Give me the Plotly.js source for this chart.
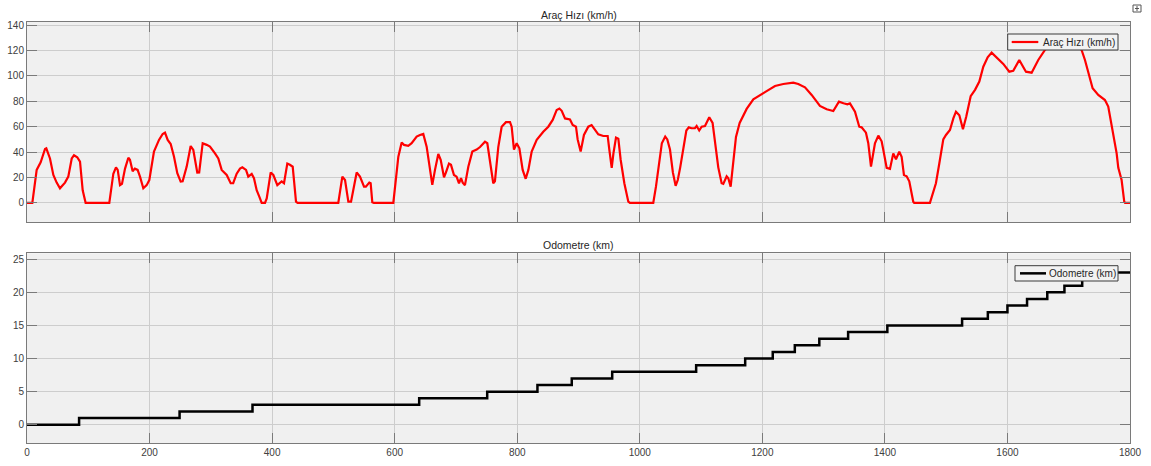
<!DOCTYPE html>
<html>
<head>
<meta charset="utf-8">
<script src="https://cdn.plot.ly/plotly-3.0.1.min.js"></script>
<style>html,body{margin:0;padding:0;background:#fff;}#chart{width:1151px;height:466px;}</style>
</head>
<body>
<div id="chart"></div>
<script>
// Vehicle speed (km/h) over time (s)
const speedTime = [0,8.7,15.8,22.3,29.4,31.5,37.5,43,48.4,53.8,62,67.4,73,76.7,82,86.5,90.9,95.7,
134.3,140.9,145.2,148,151.8,155,160,165.4,168,172.4,176,180.5,184.4,189.8,195.3,199.6,207.2,215.4,221.4,225.2,229.6,234.5,239.9,245.3,250.8,254,260.6,267.1,271.4,277.9,281,286.7,293.2,298.6,306.8,312.2,317.7,325.9,332.4,336.5,342.2,347.6,351.4,357.4,361.1,366.7,370.4,374.8,379.1,383,388.4,391.2,397.7,402,408.5,413,415.6,419.4,424.8,429,433.6,439,441.6,
508,514.6,519,524.4,528.8,538,543.4,550,553,558.6,560.8,563.5,566,
597.8,606,611.4,615.2,622.2,627.7,635.9,641.3,646.7,652.2,656.5,661.4,665.8,671.2,675.1,680.5,683.7,688.6,691.9,696.8,701,705,708.3,711,714.7,720.2,726.7,733.8,739.3,747.4,751.2,755.5,760.9,763.6,769.1,774.6,781.6,788.2,790.9,794.7,799.1,803.5,808.9,813.8,818.2,823.6,831.8,842.5,850.7,857.9,864.4,868.8,872.6,878,886.1,890.5,895.9,898.6,903.5,908.9,916,921.4,926.9,932.3,940.4,947.6,950.3,954.2,957,961.2,965,968.8,974.8,981.3,984,
1022,1026.4,1031,1036,1041.5,1044.9,1049.3,1054,1058.5,1062,1066,1071,1076,1080,1084.6,1090,1092.8,1097,1101,1106.4,1113.4,1118.8,1122.7,1128.1,1133.6,1136.3,1141.8,1144.5,1148.3,1151,1154,1157,1163,1174.4,1185.3,1196.2,1207,1220.7,1234.2,1250.5,1258.6,1269.6,1280.5,1294,1305,1315.8,1325,1332.4,1338.8,1343,1351.2,1358.2,1362,1369.1,1372.9,1377.3,1383.8,1389.3,1394.7,1398.5,1402.9,1408.3,1413.7,1418.1,1423.5,1427.3,1431.1,1435.5,1439.8,1446.3,1447.9,
1473.5,1483.3,1488.8,1495.3,1499.7,1506.2,1511.7,1516,1521.5,1527.4,1532.8,1540,1547.1,1554.1,1560.6,1567.7,1574.2,1582.4,1593.2,1603,1609.5,1619.3,1630.2,1639.5,1650.3,1661.2,1672,1690,1705,1715,1721,1726.5,1731.9,1739,1748.2,1759.1,1764.5,1771.7,1778.2,1780.9,1786.3,1790.6,1792,1800];
const speedKmh = [0,0,26,32,42.5,43,35,22,16,11.5,16,20.7,35,37.5,36,32.5,10,0,
0,23,28,26,14,15,27,35.6,34,25,27,26,20.7,11.5,14,18,40.4,49.6,54.3,55.4,49.6,46.4,36.4,23.4,16.8,17,28.6,44.8,41.7,23.9,24,47,45.7,44.4,39,35,26,22,15.5,15.5,23,27,28,26,20.7,22.8,19.5,10,5,0,0,3.6,24,22,14,16,17,15.5,31,30,28.5,1,0,
0,20.7,18,1,1,24,20.7,12.8,12.8,16,15.5,0.5,0,
0,36.4,47.5,45.7,45,47,52.2,53.5,54.3,44.3,28.6,14.2,26,38.5,34,20.2,24,31,30,22,20.7,15.5,19.5,16,14,28.5,40.4,42,44,48.2,47,34,15.5,17,44,60,63.6,63.6,60,42,47,43,26,19,26,40.4,49.6,56,60,65.3,73.2,74.3,72.5,66.5,65.7,61.3,60,50,40.4,53.5,60,61.3,58,54,52.7,52.7,42,27.6,39,51.4,50.6,34,15.5,1,0,
0,12.8,30,47,52.2,50,42,24,13.5,18,28,44.4,57,59.5,58.8,58.8,60.5,57,60,60.5,67.4,63,50,28,15.5,15,21,19.5,12.8,24,40,52,63,74,81.5,84.5,88,92,93.6,94.7,93.6,91,85,76.3,73.7,72.4,79.7,78.4,77.6,78.4,71.8,60,59.5,55.3,47,28.6,47,53,48.5,39,27.6,26.8,39,34.4,40.4,36.4,22,21,17,1,0,
0,15.5,31,50,53.5,57.4,66.5,71.8,69,58,68,84,89,95.5,107.2,114.6,118.3,114.6,109.4,103.3,104,112.5,103.3,102.5,112.5,120.4,125,128,127,124,120.4,112.5,102,90.2,85,81,75.8,57.4,39,27.6,18,1,0,0];

// Odometer (km): time of each 1 km step
const odoTime = [0,85,249,368,640,751,833,889,955,1092,1172,1217,1253,1293,1340,1404,1526,1568,1600,1632,1665,1693,1722,1755,1800];
const odoKm   = [0,1,2,3,4,5,6,7,8,9,10,11,12,13,14,15,16,17,18,19,20,21,22,23,23];

const titles = ['Araç Hızı (km/h)', 'Odometre (km)'];
const colors = ['#ff0000', '#000000'];

// plot-area geometry (px) used for placing the legend boxes
const PL = 27, PR = 1130, PT = 22, PB = 443;
const px2x = p => (p - PL) / (PR - PL);
const px2y = p => (PB - p) / (PB - PT);

const font = {family: 'Liberation Sans, Arial, sans-serif', size: 10, color: '#404040'};
const axisCommon = {
  showline: true, linecolor: '#7a7a7a', linewidth: 1, mirror: 'ticks',
  ticks: 'inside', ticklen: 10, tickcolor: '#7a7a7a', tickwidth: 1,
  showgrid: true, gridcolor: '#cdcdcd', gridwidth: 1, zeroline: false,
  tickfont: font, fixedrange: true
};

const traces = [
  {x: speedTime, y: speedKmh, type: 'scatter', mode: 'lines', name: titles[0],
   line: {color: colors[0], width: 2.2}, xaxis: 'x', yaxis: 'y', hoverinfo: 'skip'},
  {x: odoTime, y: odoKm, type: 'scatter', mode: 'lines', name: titles[1],
   line: {color: colors[1], width: 2.5, shape: 'hv'}, xaxis: 'x2', yaxis: 'y2', hoverinfo: 'skip'}
];

// MATLAB-style compact legend boxes [left, right, top, bottom, lineStart, lineEnd, textStart] in px
const legendBoxes = [
  [1007.7, 1118, 34, 50, 1011.7, 1038.3, 1041.5],
  [1015, 1118, 265.7, 281, 1020, 1046, 1047.5]
];
const shapes = [];
const annotations = [
  {text: titles[0], xref: 'paper', yref: 'paper', x: 0.5, y: px2y(15), xanchor: 'center', yanchor: 'middle', showarrow: false,
   font: {family: 'Liberation Sans, Arial, sans-serif', size: 10.5, color: '#262626'}},
  {text: titles[1], xref: 'paper', yref: 'paper', x: 0.5, y: px2y(245), xanchor: 'center', yanchor: 'middle', showarrow: false,
   font: {family: 'Liberation Sans, Arial, sans-serif', size: 10.5, color: '#262626'}}
];
legendBoxes.forEach((b, i) => {
  const yMid = (b[2] + b[3]) / 2;
  shapes.push({type: 'rect', xref: 'paper', yref: 'paper', x0: px2x(b[0]), x1: px2x(b[1]), y0: px2y(b[3]), y1: px2y(b[2]),
    line: {color: '#3a3a3a', width: 1}, fillcolor: '#f2f2f2'});
  shapes.push({type: 'line', xref: 'paper', yref: 'paper', x0: px2x(b[4]), x1: px2x(b[5]), y0: px2y(yMid), y1: px2y(yMid),
    line: {color: colors[i], width: i === 0 ? 2.2 : 2.5}});
  annotations.push({text: titles[i], xref: 'paper', yref: 'paper', x: px2x(b[6]), y: px2y(yMid), xanchor: 'left', yanchor: 'middle',
    showarrow: false, borderpad: 0, font: {family: 'Liberation Sans, Arial, sans-serif', size: 10, color: '#262626'}});
});
// small export icon at the top right
shapes.push({type: 'rect', xref: 'paper', yref: 'paper', x0: px2x(1133), x1: px2x(1141), y0: px2y(12), y1: px2y(5),
  line: {color: '#555', width: 1}, fillcolor: '#ffffff'});
shapes.push({type: 'line', xref: 'paper', yref: 'paper', x0: px2x(1135), x1: px2x(1139), y0: px2y(8.5), y1: px2y(8.5), line: {color: '#555', width: 1}});
shapes.push({type: 'line', xref: 'paper', yref: 'paper', x0: px2x(1137), x1: px2x(1137), y0: px2y(11), y1: px2y(6), line: {color: '#555', width: 1}});

const layout = {
  width: 1151, height: 466,
  margin: {l: PL, r: 1151 - PR, t: PT, b: 466 - PB},
  paper_bgcolor: '#ffffff', plot_bgcolor: '#f0f0f0',
  showlegend: false,
  xaxis: Object.assign({}, axisCommon, {anchor: 'y', domain: [0, 1], range: [0, 1800], dtick: 200, tick0: 0, showticklabels: false}),
  yaxis: Object.assign({}, axisCommon, {anchor: 'x', domain: [px2y(222), 1], range: [-15, 142.4], dtick: 20, tick0: 0}),
  xaxis2: Object.assign({}, axisCommon, {anchor: 'y2', domain: [0, 1], range: [0, 1800], dtick: 200, tick0: 0}),
  yaxis2: Object.assign({}, axisCommon, {anchor: 'x2', domain: [0, px2y(253.3)], range: [-2.76, 25.9], dtick: 5, tick0: 0}),
  annotations: annotations,
  shapes: shapes
};

Plotly.newPlot('chart', traces, layout, {displayModeBar: false, staticPlot: true});
</script>
</body>
</html>
